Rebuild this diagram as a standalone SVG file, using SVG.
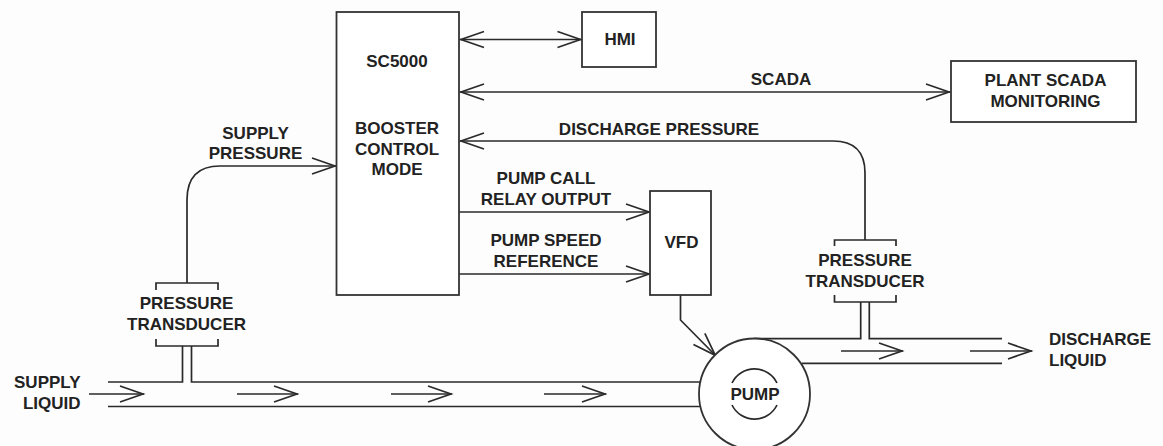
<svg xmlns="http://www.w3.org/2000/svg" width="1163" height="446" viewBox="0 0 1163 446">
<defs>
<marker id="open" markerUnits="userSpaceOnUse" markerWidth="28" markerHeight="20" refX="25" refY="10" orient="auto-start-reverse">
<path d="M1 2 L24 10 L1 18" fill="none" stroke="#2a2a2a" stroke-width="1.7"/>
</marker>
</defs>
<style>
.b{fill:#fff;stroke:#333;stroke-width:1.8}
.l{fill:none;stroke:#2a2a2a;stroke-width:1.7}
.a{fill:none;stroke:#2a2a2a;stroke-width:1.7;marker-end:url(#open)}
.d{fill:none;stroke:#2a2a2a;stroke-width:1.7;marker-start:url(#open);marker-end:url(#open)}
text{font-family:"Liberation Sans",Arial,sans-serif;font-weight:700;font-size:17px;fill:#222;text-anchor:middle}
.s{text-anchor:start}
.e{text-anchor:end}
</style>
<rect width="1163" height="446" fill="#fdfdfd"/>
<g id="connectors">
<path class="d" d="M460 39.500H581.500"/>
<path class="d" d="M460 92H950"/>
<path class="a" d="M865 240V173Q865 141 833 141H460"/>
<path class="a" d="M187 283V200Q187 166 220 166H336"/>
<path class="a" d="M459 212H650"/>
<path class="a" d="M459 274H650"/>
<path class="a" d="M680.500 295V320L716 356"/>
<path class="l" d="M156 290V283H218V290"/>
<path class="l" d="M156 339V346H218V339"/>
<path class="l" d="M834.500 246V240H896V246"/>
<path class="l" d="M834.500 295V302H896V295"/>
<path class="l" d="M108 382H182.500V346M191.500 346V382H702"/>
<path class="l" d="M108 406.500H700"/>
<path class="l" d="M754 338.700H860.700V302M869.300 302V338.700H1002"/>
<path class="l" d="M802 363.300H1002"/>
<path class="a" d="M89 394H144"/>
<path class="a" d="M237 394H298"/>
<path class="a" d="M391 394H452"/>
<path class="a" d="M544 394H606"/>
<path class="a" d="M841 351H903"/>
<path class="a" d="M970 351H1032"/>
</g>
<g id="controller">
<rect class="b" x="336.500" y="12" width="122.500" height="283"/>
<text x="397" y="67">SC5000</text>
<text x="397" y="134">BOOSTER</text>
<text x="397" y="155">CONTROL</text>
<text x="397" y="175">MODE</text>
</g>
<g id="hmi">
<rect class="b" x="582" y="12" width="74" height="55"/>
<text x="620" y="45">HMI</text>
</g>
<g id="plant-scada">
<rect class="b" x="951" y="61" width="185" height="61"/>
<text x="1045.500" y="86">PLANT SCADA</text>
<text x="1045.500" y="107">MONITORING</text>
</g>
<g id="vfd">
<rect class="b" x="650" y="191" width="61" height="104"/>
<text x="681.500" y="248">VFD</text>
</g>
<g id="pump">
<circle class="b" cx="754.500" cy="394" r="55.500"/>
<path class="l" d="M732 383A25 25 0 0 1 777 383M732 405A25 25 0 0 0 777 405"/>
<text x="755" y="400">PUMP</text>
</g>
<g id="labels">
<text x="255.500" y="139">SUPPLY</text>
<text x="255.500" y="159">PRESSURE</text>
<text x="781" y="85">SCADA</text>
<text x="659" y="135">DISCHARGE PRESSURE</text>
<text x="546" y="184">PUMP CALL</text>
<text x="546" y="205">RELAY OUTPUT</text>
<text x="546" y="246">PUMP SPEED</text>
<text x="546" y="267">REFERENCE</text>
<text x="186.500" y="309">PRESSURE</text>
<text x="186.500" y="330">TRANSDUCER</text>
<text x="865" y="266">PRESSURE</text>
<text x="865" y="287">TRANSDUCER</text>
<text class="e" x="80.500" y="388">SUPPLY</text>
<text class="e" x="80.500" y="409">LIQUID</text>
<text class="s" x="1049" y="345">DISCHARGE</text>
<text class="s" x="1049" y="366">LIQUID</text>
</g>
</svg>
